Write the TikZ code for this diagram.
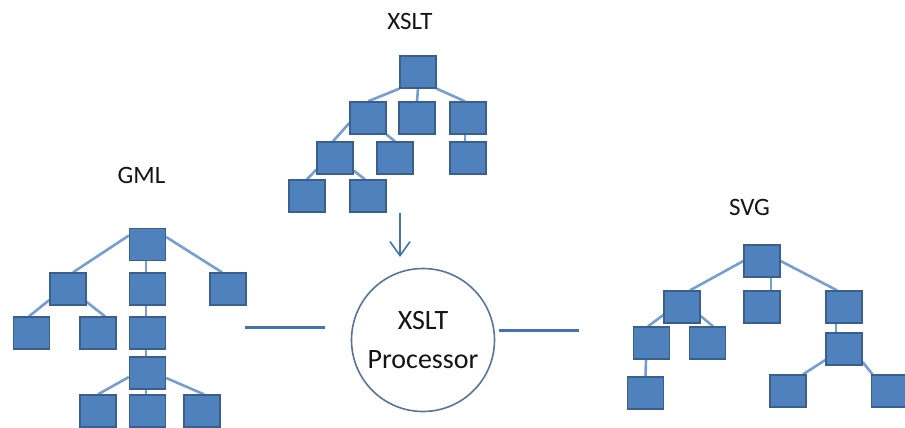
\documentclass[tikz,border=0pt]{standalone}
\usepackage{fontspec}
\setmainfont{Carlito}
\usetikzlibrary{arrows.meta,backgrounds}

\definecolor{boxfill}{HTML}{4F81BD}
\definecolor{boxline}{HTML}{3A5F8E}
\definecolor{edgeblue}{RGB}{118,158,210}
\definecolor{flowblue}{RGB}{66,114,184}
\definecolor{ringline}{RGB}{90,115,152}
\definecolor{labeltext}{RGB}{20,20,20}

\begin{document}
\begin{tikzpicture}[x=1pt,y=-1pt,
  treebox/.style={draw=boxline, fill=boxfill, line width=1.3pt,
    minimum width=36pt, minimum height=32pt, inner sep=0pt},
  edge/.style={draw=edgeblue, line width=2.6pt},
  title/.style={text=labeltext, font=\fontsize{25}{30}\selectfont, inner sep=0pt},
  procring/.style={circle, draw=ringline, line width=1.6pt, fill=white,
    minimum size=143pt, inner sep=0pt, align=center, text=labeltext,
    font=\fontsize{28}{39}\selectfont},
  flowline/.style={draw=flowblue, line width=3pt},
  feed/.style={draw=flowblue, line width=1.6pt,
    -{Straight Barb[length=14pt,width=20pt,line width=1.6pt]}}
]
\useasboundingbox (0,0) rectangle (905,428);

% ---- XSLT stylesheet tree ----
\node[title] (xsltlabel) at (410,21) {XSLT};
\node[treebox] (xr) at (418,72) {};
\node[treebox] (xa) at (368,118) {};
\node[treebox] (xb) at (417,118) {};
\node[treebox] (xc) at (468,118) {};
\node[treebox] (xd) at (335,158) {};
\node[treebox] (xe) at (395,158) {};
\node[treebox] (xf) at (468,158) {};
\node[treebox] (xg) at (307,196) {};
\node[treebox] (xh) at (368,196) {};

% ---- GML source tree ----
\node[title] (gmllabel) at (141.5,175) {GML};
\node[treebox] (gr) at (147.5,244.5) {};
\node[treebox] (gl) at (68,289) {};
\node[treebox] (gm) at (147.5,289) {};
\node[treebox] (gR) at (228,289) {};
\node[treebox] (gll) at (31.5,333) {};
\node[treebox] (glr) at (98,333) {};
\node[treebox] (gmm) at (147.5,333) {};
\node[treebox] (g4) at (147.5,373) {};
\node[treebox] (g5a) at (98,411) {};
\node[treebox] (g5b) at (147.5,411) {};
\node[treebox] (g5c) at (202,411) {};

% ---- SVG result tree ----
\node[title] (svglabel) at (749.5,207) {SVG};
\node[treebox] (sr) at (762,261) {};
\node[treebox] (sa) at (682,307) {};
\node[treebox] (sb) at (762,307) {};
\node[treebox] (sc) at (844,307) {};
\node[treebox] (saa) at (651.5,343) {};
\node[treebox] (sab) at (707.5,343) {};
\node[treebox] (scc) at (844,349) {};
\node[treebox] (saaa) at (645.5,393) {};
\node[treebox] (scl) at (788,391) {};
\node[treebox] (scr) at (889.5,391) {};

% ---- processor in the middle ----
\node[procring] (proc) at (423,340) {XSLT\\Processor};
\coordinate (feedtop) at (400,213);
\coordinate (feedtip) at (400,257);
\coordinate (inA) at (245,327.7);
\coordinate (inB) at (325,327.7);
\coordinate (outA) at (499,330);
\coordinate (outB) at (579,330);

\draw[feed] (feedtop) -- (feedtip);
\draw[flowline] (inA) -- (inB);
\draw[flowline] (outA) -- (outB);

\begin{scope}[on background layer]
  \fill[white] (0,0) rectangle (905,428);

  % XSLT tree links
  \draw[edge] (xr.south west) -- (xa.north);
  \draw[edge] (xr.south) -- (xb.north);
  \draw[edge] (xr.south east) -- ([xshift=-3pt]xc.north);
  \draw[edge] ([xshift=-3pt]xc.south) -- ([xshift=-3pt]xf.north);
  \draw[edge] ([yshift=-5pt]xa.west) -- ([xshift=-2pt]xd.north);
  \draw[edge] (xa.south east) -- (xe.north);
  \draw[edge] ([yshift=5pt]xd.south west) -- (xg.north);
  \draw[edge] ([yshift=4pt]xd.south east) -- ([xshift=-3pt]xh.north);

  % GML tree links
  \draw[edge] ([yshift=9pt]gr.west) -- ([xshift=5pt]gl.north);
  \draw[edge] ([xshift=-1.5pt]gr.south) -- ([xshift=-1.5pt]gm.north);
  \draw[edge] ([yshift=7.5pt]gr.east) -- ([xshift=-6pt]gR.north);
  \draw[edge] ([yshift=-11pt]gl.west) -- ([xshift=-2.5pt]gll.north);
  \draw[edge] ([yshift=-13pt]gl.east) -- ([xshift=7pt]glr.north);
  \draw[edge] ([xshift=-1.5pt]gm.south) -- ([xshift=-1.5pt]gmm.north);
  \draw[edge] ([xshift=-1.5pt]gmm.south) -- ([xshift=-1.5pt]g4.north);
  \draw[edge] ([yshift=-4pt]g4.west) -- (g5a.north);
  \draw[edge] ([xshift=-1.5pt]g4.south) -- ([xshift=-1.5pt]g5b.north);
  \draw[edge] ([yshift=-5pt]g4.east) -- ([xshift=2pt]g5c.north);

  % SVG tree links
  \draw[edge] (sr.west) -- ([xshift=8pt]sa.north);
  \draw[edge] ([xshift=9pt]sr.south) -- ([xshift=9pt]sb.north);
  \draw[edge] (sr.east) -- ([xshift=-7pt]sc.north);
  \draw[edge] ([yshift=-8pt]sa.west) -- ([xshift=-3.5pt]saa.north);
  \draw[edge] ([yshift=-9pt]sa.east) -- ([xshift=5.5pt]sab.north);
  \draw[edge] ([xshift=-5.5pt]saa.south) -- (saaa.north);
  \draw[edge] ([xshift=-8pt]sc.south) -- ([xshift=-8pt]scc.north);
  \draw[edge] ([yshift=-11pt]scc.west) -- ([xshift=15pt]scl.north);
  \draw[edge] ([yshift=-13pt]scc.east) -- ([xshift=-17pt]scr.north);
\end{scope}
\end{tikzpicture}
\end{document}
